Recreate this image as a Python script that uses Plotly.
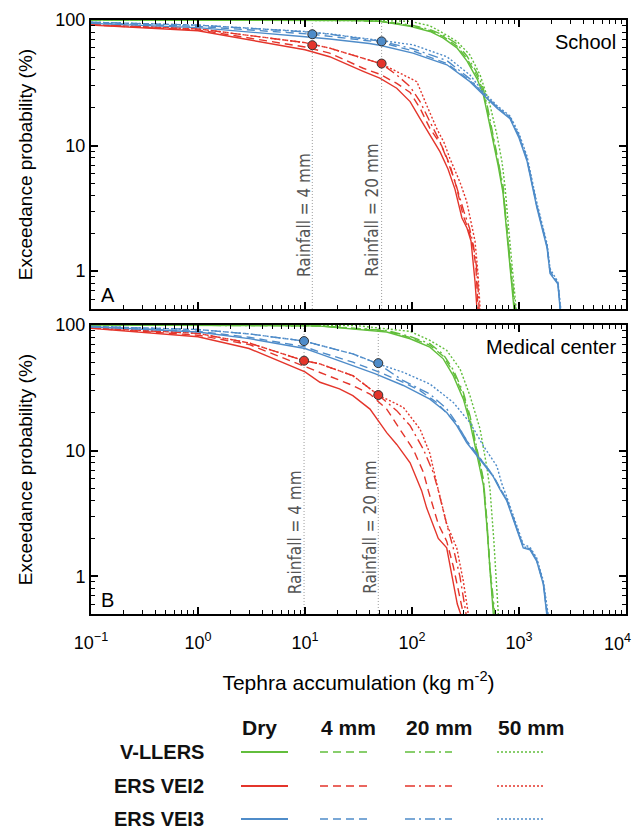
import math
import plotly.graph_objects as go

# ---------------- DATA ----------------
# Panel A (School) - V-LLERS (green)
GA_DRY_X = [0.1, 10, 30, 50, 96, 147, 195, 263, 327, 405, 461, 513, 571, 637, 709, 789, 860, 898]
GA_DRY_Y = [100, 99.7, 99, 97.5, 89, 81, 72, 60, 47, 34, 26, 17, 11, 7, 4.2, 1.5, 0.75, 0.5]
GA_4_X = [0.1, 10, 30, 50, 96, 147, 195, 263, 327, 405, 461, 513, 571, 637, 709, 789, 860, 910]
GA_4_Y = [100, 99.8, 99.2, 97.8, 90, 82.5, 74, 62, 49, 36, 27.5, 18, 11.8, 7.5, 4.5, 1.6, 0.8, 0.5]
GA_20_X = [0.1, 10, 30, 50, 96, 147, 195, 263, 327, 405, 461, 513, 571, 637, 709, 789, 860, 925]
GA_20_Y = [100, 99.8, 99.3, 98, 91.5, 84, 76, 64.5, 51.5, 38, 29, 19.5, 12.5, 8, 4.8, 1.8, 0.85, 0.5]
GA_50_X = [0.1, 20, 50, 96, 147, 195, 263, 348, 433, 536, 623, 694, 740, 800, 870, 940]
GA_50_Y = [100, 99.8, 99, 97.6, 90, 78.7, 67.6, 52.7, 36.5, 21, 12.1, 7.4, 4.7, 2.2, 1.0, 0.5]

# Panel A - ERS VEI2 (red)
RA_DRY_X = [0.1, 1, 10, 17, 35, 50, 72, 96, 119, 147, 183, 217, 252, 293, 327, 356, 372, 388, 405]
RA_DRY_Y = [91, 82, 58, 51, 39, 34.4, 28.6, 22.4, 16.4, 12.1, 8.9, 6.5, 4.5, 2.65, 2.2, 1.74, 1.2, 0.83, 0.5]
RA_4_X = [0.1, 1, 10, 17, 35, 50, 72, 96, 119, 147, 189, 226, 260, 300, 340, 370, 395, 405, 414]
RA_4_Y = [91.5, 83.5, 61, 54.5, 41.3, 37, 31.3, 26.5, 19.8, 13.7, 10, 7, 4.7, 2.8, 2.1, 1.6, 1.1, 0.8, 0.5]
RA_20_X = [0.1, 1, 10, 17, 52, 72, 96, 119, 147, 183, 217, 252, 305, 345, 375, 400, 412, 424]
RA_20_Y = [92, 85, 66, 59.7, 44.7, 36.5, 29.5, 22.4, 15.5, 10.7, 7.4, 5.2, 3.0, 2.2, 1.6, 1.1, 0.8, 0.5]
RA_50_X = [0.1, 1, 10, 17, 52, 72, 111, 137, 170, 200, 226, 281, 324, 388, 414, 433]
RA_50_Y = [92, 85, 66, 59.7, 44.7, 38.9, 32.3, 21, 13.7, 10.5, 7.9, 5.1, 3.6, 1.74, 0.95, 0.5]

# Panel A - ERS VEI3 (blue)
BA_DRY_X = [0.1, 1, 10, 17, 40, 50, 102, 212, 348, 461, 623, 824, 1000, 1190, 1470, 1830, 1950, 2310, 2420]
BA_DRY_Y = [94, 87, 73.5, 70.5, 65, 63, 54.5, 44, 32.3, 25.3, 19.8, 16.4, 11.5, 7.5, 3.2, 1.53, 0.96, 0.79, 0.5]
BA_4_X = [0.1, 1, 11.7, 50, 102, 212, 348, 461, 623, 824, 1000, 1190, 1470, 1830, 1950, 2310, 2430]
BA_4_Y = [95, 89, 77, 66.7, 56.8, 45, 33, 25.8, 20.2, 16.7, 11.8, 7.7, 3.3, 1.58, 1.0, 0.8, 0.5]
BA_20_X = [0.1, 1, 10, 17, 52, 102, 212, 348, 461, 623, 824, 1000, 1190, 1470, 1830, 1950, 2310, 2440]
BA_20_Y = [96, 91, 80.5, 77, 67.6, 59, 47.5, 34, 26, 20.3, 16.8, 12, 7.8, 3.35, 1.6, 1.0, 0.8, 0.5]
BA_50_X = [0.1, 1, 10, 17, 52, 102, 212, 348, 461, 623, 824, 1000, 1190, 1470, 1830, 1950, 2310, 2460]
BA_50_Y = [96, 91, 81, 77.5, 68.5, 63.5, 51, 36.5, 27, 20.8, 17.2, 12.5, 8.2, 3.5, 1.65, 1.05, 0.82, 0.5]

# Panel B (Medical center) - V-LLERS (green)
GB_DRY_X = [0.1, 3, 10, 13.8, 58, 96, 147, 196, 243, 302, 348, 388, 433, 465, 499, 536, 575]
GB_DRY_Y = [100, 99.7, 98.8, 98, 88, 77.7, 66.7, 53.8, 39.5, 25.7, 16.7, 10.9, 7.3, 5.3, 2.6, 1.03, 0.5]
GB_4_X = [0.1, 3, 10, 13.8, 58, 96, 147, 196, 243, 302, 348, 388, 433, 465, 499, 536, 585]
GB_4_Y = [100, 99.8, 99, 98.3, 89.5, 79.5, 69, 56.5, 42, 27.5, 18, 11.7, 7.8, 5.6, 2.8, 1.1, 0.5]
GB_20_X = [0.1, 3, 10, 13.8, 58, 96, 147, 196, 243, 302, 348, 388, 433, 465, 499, 536, 595]
GB_20_Y = [100, 99.8, 99.2, 98.6, 90.5, 81, 71, 58.5, 44, 29, 19, 12.3, 8.2, 5.9, 2.9, 1.15, 0.5]
GB_50_X = [0.1, 10, 30, 96, 147, 211, 281, 348, 433, 499, 536, 580, 641]
GB_50_Y = [100, 99.8, 99, 89, 75.5, 62.8, 44.7, 27.4, 14.8, 7.5, 4.9, 2, 0.5]

# Panel B - ERS VEI2 (red)
RB_DRY_X = [0.1, 1, 3, 10, 13.8, 21, 28, 40.5, 58, 72, 96, 110, 123, 137, 176, 211, 243, 265, 285]
RB_DRY_Y = [94, 80.6, 65, 42.3, 35, 31, 27.4, 21.4, 13.9, 11.2, 8, 6, 4.8, 3.5, 2.0, 1.68, 0.91, 0.6, 0.5]
RB_4_X = [0.1, 1, 3, 10, 13.8, 28, 40.5, 58, 77, 103, 128, 142, 176, 211, 243, 275, 302]
RB_4_Y = [94.5, 83, 70, 46.4, 42, 33, 28.2, 21.4, 14.8, 10.2, 6.7, 4.8, 2.6, 1.9, 1.2, 0.7, 0.5]
RB_20_X = [0.1, 1, 3, 9.8, 13.8, 28, 48.4, 72, 96, 128, 158, 176, 211, 243, 280, 320]
RB_20_Y = [95, 85.8, 72, 52, 49, 39.5, 27.7, 20.8, 15.8, 10.2, 6.7, 4.8, 2.6, 1.68, 1.0, 0.5]
RB_50_X = [0.1, 1, 3, 9.8, 13.8, 28, 48.4, 83, 119, 147, 170, 211, 262, 302, 336]
RB_50_Y = [95, 85.8, 72, 52, 49, 39.5, 27.7, 22.1, 14.8, 9.5, 5.5, 2.6, 1.68, 0.91, 0.5]

# Panel B - ERS VEI3 (blue)
BB_DRY_X = [0.1, 1, 3, 10, 13.8, 28, 45, 83, 147, 211, 262, 324, 403, 499, 575, 664, 767, 1096, 1268, 1462, 1688, 1815]
BB_DRY_Y = [97, 88, 78, 65, 59, 47.6, 41, 33, 25.7, 20.1, 15.8, 11.6, 9.1, 7.1, 6.2, 4.9, 4, 1.68, 1.62, 1.32, 0.86, 0.5]
BB_4_X = [0.1, 1, 3, 10, 13.8, 28, 48, 83, 119, 170, 262, 324, 403, 499, 575, 664, 767, 1096, 1268, 1462, 1688, 1830]
BB_4_Y = [97, 89, 80, 67, 61, 50.6, 42.6, 35, 30, 24.2, 16.3, 12, 9.4, 7.3, 6.3, 5, 4.1, 1.72, 1.65, 1.35, 0.88, 0.5]
BB_20_X = [0.1, 1, 3, 9.8, 13.8, 28, 48.4, 83, 147, 211, 262, 324, 403, 499, 575, 664, 767, 1096, 1268, 1462, 1688, 1840]
BB_20_Y = [97.5, 92, 85, 74.5, 68.9, 58.9, 49, 36, 28.2, 21.5, 16.5, 12, 9.4, 7.3, 6.3, 5, 4.1, 1.72, 1.65, 1.35, 0.88, 0.5]
BB_50_X = [0.1, 1, 3, 9.8, 13.8, 28, 48.4, 83, 147, 243, 348, 465, 622, 688, 767, 1096, 1268, 1462, 1688, 1870]
BB_50_Y = [97.5, 92, 85, 74.5, 68.9, 58.9, 49, 42, 33.9, 24.2, 16.7, 10.9, 7.5, 5.5, 4.3, 1.8, 1.7, 1.4, 0.92, 0.5]

# Rainfall thresholds (tephra load equivalents) and marked points
RAIN_A_X = [11.7, 52]
RAIN_B_X = [9.8, 48.4]
RAIN_LABELS = ["Rainfall = 4 mm", "Rainfall = 20 mm"]
DOT_A_BLUE_Y = [77, 67.6]
DOT_A_RED_Y = [63, 45]
DOT_B_BLUE_Y = [74.5, 49.7]
DOT_B_RED_Y = [52, 27.7]

X_TICKS = [0.1, 1, 10, 100, 1000, 10000]
X_TICK_TEXT = ["10<sup>−1</sup>", "10<sup>0</sup>", "10<sup>1</sup>", "10<sup>2</sup>", "10<sup>3</sup>", "10<sup>4</sup>"]
Y_TICKS = [1, 10, 100]
Y_TICK_TEXT = ["1", "10", "100"]
SCENARIOS = ["V-LLERS", "ERS VEI2", "ERS VEI3"]
RAINFALL = ["Dry", "4 mm", "20 mm", "50 mm"]

# ---------------- STYLE ----------------
GREEN = "#62BE3C"
RED = "#E4352B"
BLUE = "#4F8CC9"
COLORS = [GREEN, RED, BLUE]
DASHES = ["solid", "8px,5px", "10px,4px,2px,4px", "2px,2px"]
FONT = "Liberation Sans, Arial, Helvetica, sans-serif"
NARROW = "Liberation Sans Narrow, DejaVu Sans Condensed, Arial Narrow, sans-serif"

fig = go.Figure()

panels = {
    "A": [[(GA_DRY_X, GA_DRY_Y), (GA_4_X, GA_4_Y), (GA_20_X, GA_20_Y), (GA_50_X, GA_50_Y)],
          [(RA_DRY_X, RA_DRY_Y), (RA_4_X, RA_4_Y), (RA_20_X, RA_20_Y), (RA_50_X, RA_50_Y)],
          [(BA_DRY_X, BA_DRY_Y), (BA_4_X, BA_4_Y), (BA_20_X, BA_20_Y), (BA_50_X, BA_50_Y)]],
    "B": [[(GB_DRY_X, GB_DRY_Y), (GB_4_X, GB_4_Y), (GB_20_X, GB_20_Y), (GB_50_X, GB_50_Y)],
          [(RB_DRY_X, RB_DRY_Y), (RB_4_X, RB_4_Y), (RB_20_X, RB_20_Y), (RB_50_X, RB_50_Y)],
          [(BB_DRY_X, BB_DRY_Y), (BB_4_X, BB_4_Y), (BB_20_X, BB_20_Y), (BB_50_X, BB_50_Y)]],
}
axes = {"A": ("x", "y"), "B": ("x2", "y2")}
rain = {"A": RAIN_A_X, "B": RAIN_B_X}
dots = {"A": (DOT_A_BLUE_Y, DOT_A_RED_Y), "B": (DOT_B_BLUE_Y, DOT_B_RED_Y)}

for p in ["A", "B"]:
    xa, ya = axes[p]
    for rx in rain[p]:
        fig.add_trace(go.Scatter(x=[rx, rx], y=[0.5, 100], mode="lines", xaxis=xa, yaxis=ya,
                                 line=dict(color="#9a9a9a", width=1, dash="1px,2px"),
                                 showlegend=False, hoverinfo="skip"))
    for si in range(3):
        for ri in range(4):
            xs, ys = panels[p][si][ri]
            fig.add_trace(go.Scatter(x=xs, y=ys, mode="lines", xaxis=xa, yaxis=ya,
                                     line=dict(color=COLORS[si], width=1.4, dash=DASHES[ri]),
                                     name=f"{SCENARIOS[si]} {RAINFALL[ri]}", showlegend=False))
    by, ry = dots[p]
    fig.add_trace(go.Scatter(x=rain[p], y=by, mode="markers", xaxis=xa, yaxis=ya,
                             marker=dict(color=BLUE, size=9, line=dict(color="#333", width=1)),
                             showlegend=False))
    fig.add_trace(go.Scatter(x=rain[p], y=ry, mode="markers", xaxis=xa, yaxis=ya,
                             marker=dict(color=RED, size=9, line=dict(color="#333", width=1)),
                             showlegend=False))

minor_x = [m * 10 ** e for e in range(-1, 4) for m in range(2, 10)]
minor_y = [0.6, 0.7, 0.8, 0.9] + [m * 10 ** e for e in range(0, 2) for m in range(2, 10)]

def xaxis_cfg(anchor, labels, ticktext):
    return dict(type="log", range=[-1, 4], anchor=anchor, domain=[0, 1], automargin=False,
                tickvals=X_TICKS, ticktext=ticktext, showticklabels=labels,
                ticks="inside", ticklen=7, tickwidth=1.5, tickcolor="black",
                showline=True, linecolor="black", linewidth=2, mirror="ticks",
                showgrid=False, zeroline=False, ticklabelstandoff=11,
                tickfont=dict(family=FONT, size=18, color="black"),
                minor=dict(tickvals=minor_x, ticks="inside", ticklen=4, tickwidth=1, tickcolor="black", showgrid=False))

def yaxis_cfg(anchor, domain):
    return dict(type="log", range=[math.log10(0.5), 2], anchor=anchor, domain=domain, automargin=False,
                tickvals=Y_TICKS, ticktext=Y_TICK_TEXT,
                ticks="inside", ticklen=7, tickwidth=1.5, tickcolor="black",
                showline=True, linecolor="black", linewidth=2, mirror="ticks",
                showgrid=False, zeroline=False,
                tickfont=dict(family=FONT, size=18, color="black"),
                title=dict(text="Exceedance probability (%)", standoff=18,
                           font=dict(family=FONT, size=19, color="black")),
                minor=dict(tickvals=minor_y, ticks="inside", ticklen=4, tickwidth=1, tickcolor="black", showgrid=False))

# last label sits at the window edge: drawn as a left-nudged annotation so it is not clipped
bottom_ticktext = X_TICK_TEXT[:-1] + [""]
xa2 = xaxis_cfg("y2", True, bottom_ticktext)
xa2["title"] = dict(text="Tephra accumulation (kg m<sup>-2</sup>)", standoff=24,
                    font=dict(family=FONT, size=21, color="black"))

annotations = [dict(text=X_TICK_TEXT[-1], xref="x2", yref="y2 domain", x=math.log10(X_TICKS[-1]), y=0,
                    xanchor="right", yanchor="top", xshift=7, yshift=-15, showarrow=False,
                    font=dict(family=FONT, size=18, color="black"))]
for p, xr, yr, name, ypos in [("A", "x", "y", "School", 0.105), ("B", "x2", "y2", "Medical center", 0.062)]:
    annotations.append(dict(text=p, xref=f"{xr} domain", yref=f"{yr} domain", x=0.015, y=0.005,
                            xanchor="left", yanchor="bottom", showarrow=False,
                            font=dict(family=FONT, size=20, color="black")))
    annotations.append(dict(text=name, xref=f"{xr} domain", yref=f"{yr} domain", x=0.985, y=0.97,
                            xanchor="right", yanchor="top", showarrow=False,
                            font=dict(family=FONT, size=20, color="black")))
    for rx, lab in zip(rain[p], RAIN_LABELS):
        annotations.append(dict(text=lab, xref=xr, yref=f"{yr} domain", x=math.log10(rx), y=ypos,
                                xanchor="center", yanchor="bottom", textangle=-90, xshift=-9,
                                showarrow=False, font=dict(family=NARROW, size=17, color="#555")))

# The page body adds an 8 px offset; the figure is sized to fit the 641x830 window.
PAGE_OFFSET = 8
FIG_W, FIG_H = 641 - PAGE_OFFSET, 830 - PAGE_OFFSET

# custom key table below the plot (paper coords, from window pixel positions)
PLOT_L, PLOT_W, PLOT_BOTTOM, PLOT_H = 91, 535, 614, 594
def px(xp):
    return (xp - PLOT_L) / PLOT_W
def py(yp):
    return (PLOT_BOTTOM - yp) / PLOT_H

col_x = [241, 320, 405, 497]
row_y = [752, 786, 819]
shapes = []
for ci, h in enumerate(RAINFALL):
    annotations.append(dict(text=f"<b>{h}</b>", xref="paper", yref="paper", x=px(col_x[ci] - 1), y=py(727),
                            xanchor="left", yanchor="middle", showarrow=False,
                            font=dict(family=FONT, size=21, color="#111")))
for si, s in enumerate(SCENARIOS):
    annotations.append(dict(text=f"<b>{s}</b>", xref="paper", yref="paper", x=px(206), y=py(row_y[si]),
                            xanchor="right", yanchor="middle", showarrow=False,
                            font=dict(family=FONT, size=20, color="#111")))
    for ci in range(4):
        shapes.append(dict(type="line", xref="paper", yref="paper",
                           x0=px(col_x[ci]), x1=px(col_x[ci] + 47), y0=py(row_y[si]), y1=py(row_y[si]),
                           line=dict(color=COLORS[si], width=2 if ci == 0 else 1.5, dash=DASHES[ci])))

fig.update_layout(
    width=FIG_W, height=FIG_H,
    margin=dict(l=PLOT_L - PAGE_OFFSET, r=FIG_W - (PLOT_L + PLOT_W - PAGE_OFFSET),
                t=20 - PAGE_OFFSET, b=FIG_H - (PLOT_BOTTOM - PAGE_OFFSET), autoexpand=False),
    paper_bgcolor="white", plot_bgcolor="white",
    xaxis=xaxis_cfg("y", False, X_TICK_TEXT),
    yaxis=yaxis_cfg("x", [0.5135, 1]),
    xaxis2=xa2,
    yaxis2=yaxis_cfg("x2", [0, 0.4865]),
    annotations=annotations,
    shapes=shapes,
    showlegend=False,
    font=dict(family=FONT, color="black"),
)

fig.write_html("out.html")
